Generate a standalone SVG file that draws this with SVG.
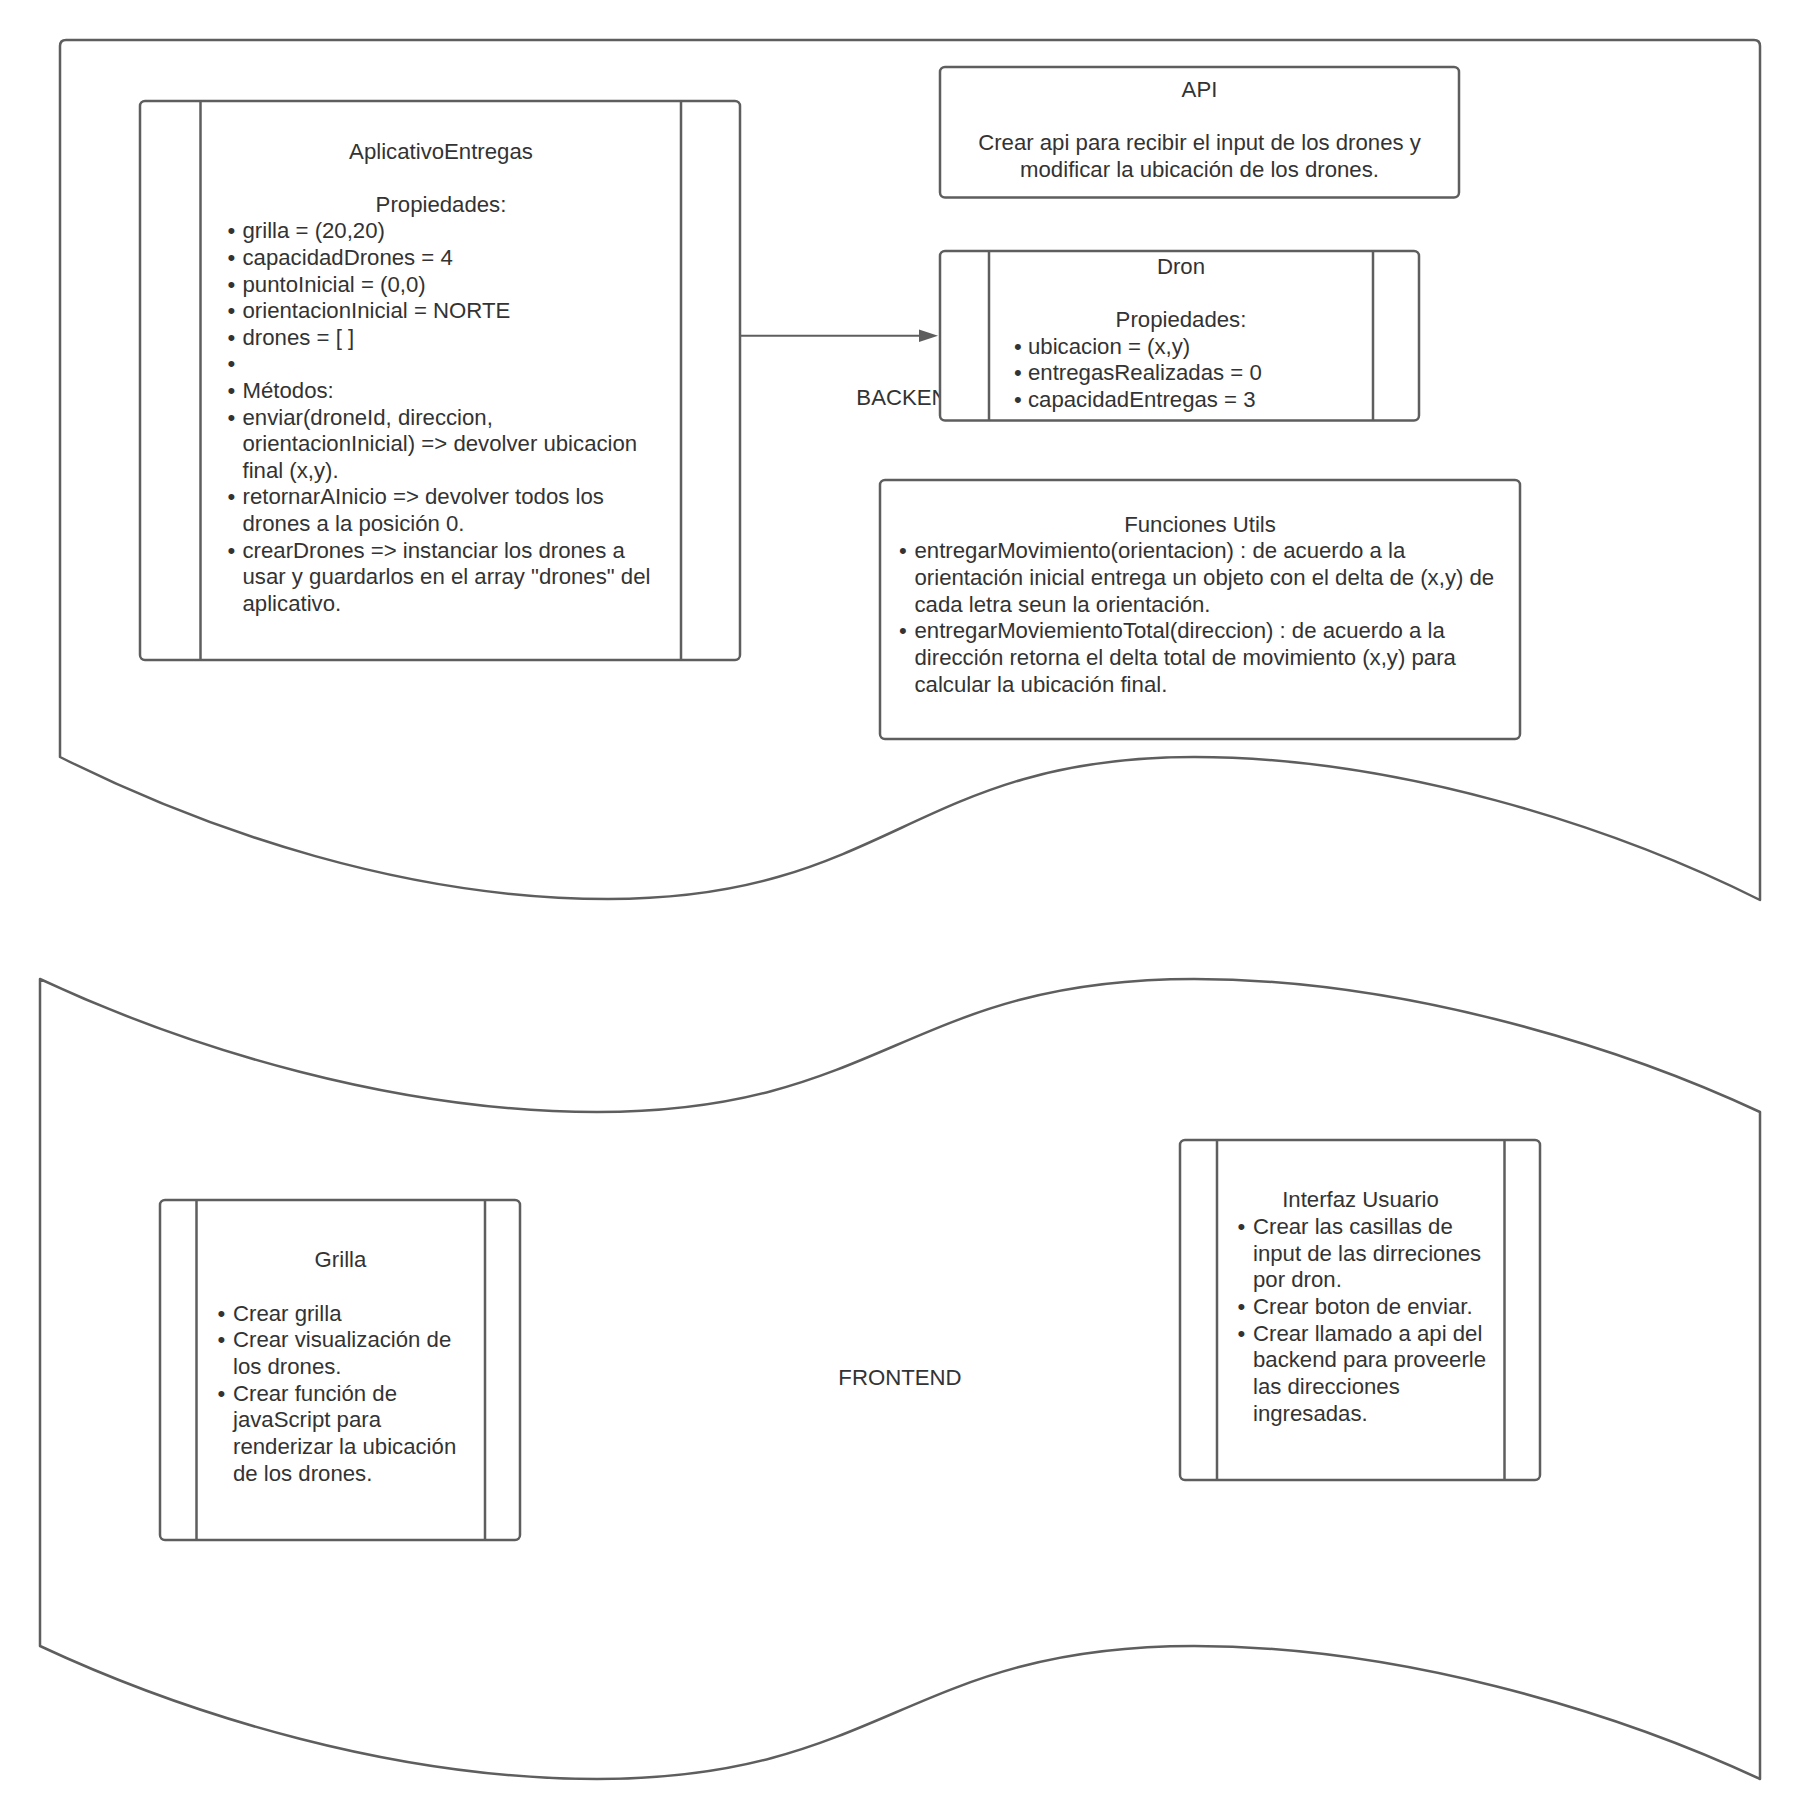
<svg xmlns="http://www.w3.org/2000/svg" width="1800" height="1820" viewBox="0 0 1800 1820">
  <style>
    .shape { fill: #ffffff; stroke: #5e5e5e; stroke-width: 2.5; stroke-linejoin: round; }
    .bar { fill: none; stroke: #5e5e5e; stroke-width: 2.5; }
    .t { font-family: "Liberation Sans", Arial, sans-serif; font-size: 22.2px; fill: #333333; }
    .mid { text-anchor: middle; }
    .link { fill: none; stroke: #5e5e5e; stroke-width: 2; }
  </style>
  <rect width="1800" height="1820" fill="#ffffff"/>

  <!-- backend swimlane: flat top, wavy bottom -->
  <g id="backend">
    <path class="shape" d="M60,757 L60,46 Q60,40 66,40 L1754,40 Q1760,40 1760,46 L1760,900 C1610,825 1394,757 1194,757 C913,757 889,899 608,899 C408,899 210,832 60,757 Z"/>
    <text class="t mid" x="910" y="405">BACKEND</text>
  </g>

  <!-- frontend swimlane: wavy top and bottom -->
  <g id="frontend">
    <path class="shape" d="M40,979 C190,1049 397,1112 597,1112 C884,1112 907,979 1194,979 C1394,979 1610,1042 1760,1112 L1760,1779 C1610,1709 1394,1646 1194,1646 C907,1646 884,1779 597,1779 C397,1779 190,1716 40,1646 Z"/>
    <text class="t mid" x="900" y="1385">FRONTEND</text>
  </g>

  <!-- AplicativoEntregas class -->
  <g id="aplicativo-entregas">
    <rect class="shape" x="140" y="101" width="600" height="559" rx="5"/>
    <line class="bar" x1="200.5" y1="101" x2="200.5" y2="660"/>
    <line class="bar" x1="681" y1="101" x2="681" y2="660"/>
    <text class="t mid" x="441" y="158.5">AplicativoEntregas</text>
    <text class="t mid" x="441" y="211.7">Propiedades:</text>
    <g class="t">
      <text x="231.5" y="238.3" class="mid">•</text><text x="242.5" y="238.3">grilla = (20,20)</text>
      <text x="231.5" y="264.9" class="mid">•</text><text x="242.5" y="264.9">capacidadDrones = 4</text>
      <text x="231.5" y="291.5" class="mid">•</text><text x="242.5" y="291.5">puntoInicial = (0,0)</text>
      <text x="231.5" y="318.1" class="mid">•</text><text x="242.5" y="318.1">orientacionInicial = NORTE</text>
      <text x="231.5" y="344.7" class="mid">•</text><text x="242.5" y="344.7">drones = [ ]</text>
      <text x="231.5" y="371.3" class="mid">•</text>
      <text x="231.5" y="397.9" class="mid">•</text><text x="242.5" y="397.9">Métodos:</text>
      <text x="231.5" y="424.5" class="mid">•</text><text x="242.5" y="424.5">enviar(droneId, direccion,</text>
      <text x="242.5" y="451.1">orientacionInicial) =&gt; devolver ubicacion</text>
      <text x="242.5" y="477.7">final (x,y).</text>
      <text x="231.5" y="504.3" class="mid">•</text><text x="242.5" y="504.3">retornarAInicio =&gt; devolver todos los</text>
      <text x="242.5" y="530.9">drones a la posición 0.</text>
      <text x="231.5" y="557.5" class="mid">•</text><text x="242.5" y="557.5">crearDrones =&gt; instanciar los drones a</text>
      <text x="242.5" y="584.1">usar y guardarlos en el array "drones" del</text>
      <text x="242.5" y="610.7">aplicativo.</text>
    </g>
  </g>

  <!-- API block -->
  <g id="api">
    <rect class="shape" x="940" y="67" width="519" height="130.5" rx="5"/>
    <text class="t mid" x="1199.5" y="96.5">API</text>
    <text class="t mid" x="1199.5" y="150">Crear api para recibir el input de los drones y</text>
    <text class="t mid" x="1199.5" y="176.5">modificar la ubicación de los drones.</text>
  </g>

  <!-- Dron class -->
  <g id="dron">
    <rect class="shape" x="940" y="251" width="479" height="169.5" rx="5"/>
    <line class="bar" x1="989" y1="251" x2="989" y2="420.5"/>
    <line class="bar" x1="1373" y1="251" x2="1373" y2="420.5"/>
    <text class="t mid" x="1181" y="274">Dron</text>
    <text class="t mid" x="1181" y="327.2">Propiedades:</text>
    <g class="t">
      <text x="1018" y="353.8" class="mid">•</text><text x="1028" y="353.8">ubicacion = (x,y)</text>
      <text x="1018" y="380.4" class="mid">•</text><text x="1028" y="380.4">entregasRealizadas = 0</text>
      <text x="1018" y="407" class="mid">•</text><text x="1028" y="407">capacidadEntregas = 3</text>
    </g>
  </g>

  <!-- Funciones Utils block -->
  <g id="funciones-utils">
    <rect class="shape" x="880" y="480" width="640" height="259" rx="5"/>
    <text class="t mid" x="1200" y="531.7">Funciones Utils</text>
    <g class="t">
      <text x="903" y="558.3" class="mid">•</text><text x="914.5" y="558.3">entregarMovimiento(orientacion) : de acuerdo a la</text>
      <text x="914.5" y="585">orientación inicial entrega un objeto con el delta de (x,y) de</text>
      <text x="914.5" y="611.7">cada letra seun la orientación.</text>
      <text x="903" y="638.3" class="mid">•</text><text x="914.5" y="638.3">entregarMoviemientoTotal(direccion) : de acuerdo a la</text>
      <text x="914.5" y="665">dirección retorna el delta total de movimiento (x,y) para</text>
      <text x="914.5" y="691.7">calcular la ubicación final.</text>
    </g>
  </g>

  <!-- Grilla component -->
  <g id="grilla">
    <rect class="shape" x="160" y="1200" width="360" height="340" rx="5"/>
    <line class="bar" x1="196.5" y1="1200" x2="196.5" y2="1540"/>
    <line class="bar" x1="485" y1="1200" x2="485" y2="1540"/>
    <text class="t mid" x="340.5" y="1267.3">Grilla</text>
    <g class="t">
      <text x="221.5" y="1320.7" class="mid">•</text><text x="233" y="1320.7">Crear grilla</text>
      <text x="221.5" y="1347.3" class="mid">•</text><text x="233" y="1347.3">Crear visualización de</text>
      <text x="233" y="1374">los drones.</text>
      <text x="221.5" y="1400.7" class="mid">•</text><text x="233" y="1400.7">Crear función de</text>
      <text x="233" y="1427.3">javaScript para</text>
      <text x="233" y="1454">renderizar la ubicación</text>
      <text x="233" y="1480.7">de los drones.</text>
    </g>
  </g>

  <!-- Interfaz Usuario component -->
  <g id="interfaz-usuario">
    <rect class="shape" x="1180" y="1140" width="360" height="340" rx="5"/>
    <line class="bar" x1="1217" y1="1140" x2="1217" y2="1480"/>
    <line class="bar" x1="1504.5" y1="1140" x2="1504.5" y2="1480"/>
    <text class="t mid" x="1360.5" y="1207.3">Interfaz Usuario</text>
    <g class="t">
      <text x="1241.5" y="1234" class="mid">•</text><text x="1253" y="1234">Crear las casillas de</text>
      <text x="1253" y="1260.7">input de las dirreciones</text>
      <text x="1253" y="1287.3">por dron.</text>
      <text x="1241.5" y="1314" class="mid">•</text><text x="1253" y="1314">Crear boton de enviar.</text>
      <text x="1241.5" y="1340.7" class="mid">•</text><text x="1253" y="1340.7">Crear llamado a api del</text>
      <text x="1253" y="1367.3">backend para proveerle</text>
      <text x="1253" y="1394">las direcciones</text>
      <text x="1253" y="1420.7">ingresadas.</text>
    </g>
  </g>

  <!-- connectors -->
  <g id="connectors">
    <path class="link" d="M741,335.7 L920,335.7"/>
    <path d="M919,329.5 L938,335.7 L919,342 Z" fill="#5e5e5e"/>
  </g>
</svg>
